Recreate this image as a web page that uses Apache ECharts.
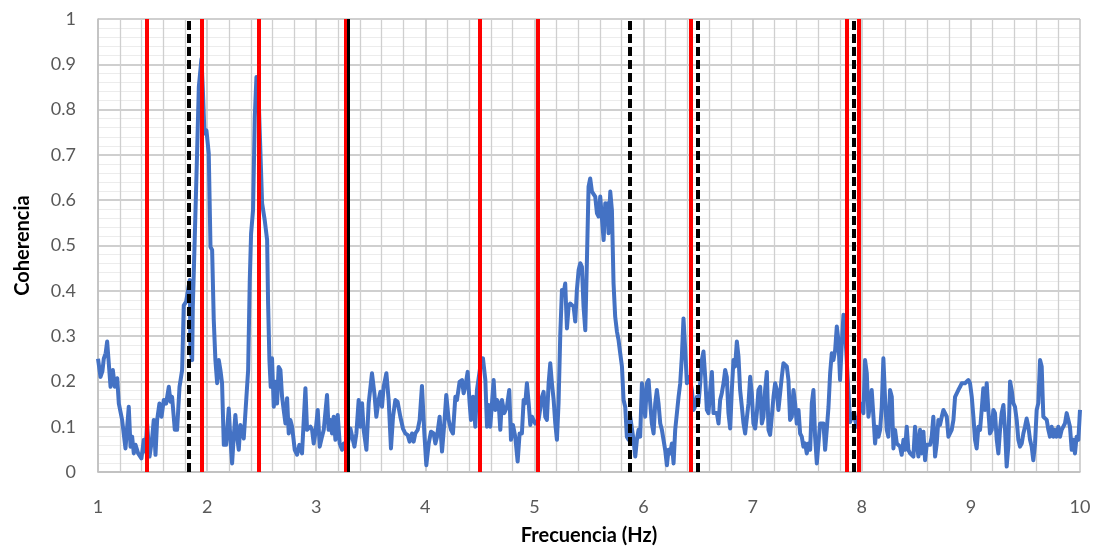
<!DOCTYPE html>
<html>
<head>
<meta charset="utf-8">
<script src="https://cdn.jsdelivr.net/npm/echarts@6/dist/echarts.min.js"></script>
<style>html,body{margin:0;padding:0;background:#fff;}#c{width:1099px;height:552px;}</style>
</head>
<body>
<div id="c"></div>
<script>
const freq = [1.000,1.023,1.040,1.053,1.070,1.084,1.115,1.136,1.154,1.176,1.191,1.221,1.252,1.282,1.298,1.313,1.328,1.344,1.368,1.398,1.420,1.435,1.450,1.472,1.496,1.511,1.527,1.542,1.563,1.582,1.603,1.624,1.649,1.664,1.679,1.704,1.725,1.747,1.771,1.786,1.808,1.826,1.841,1.847,1.863,1.869,1.887,1.908,1.924,1.948,1.960,1.976,1.994,2.015,2.031,2.046,2.061,2.076,2.092,2.107,2.122,2.137,2.153,2.174,2.198,2.214,2.229,2.244,2.259,2.275,2.290,2.305,2.321,2.336,2.351,2.376,2.391,2.403,2.421,2.437,2.452,2.467,2.482,2.504,2.528,2.550,2.559,2.571,2.583,2.595,2.611,2.626,2.641,2.656,2.672,2.687,2.702,2.718,2.733,2.748,2.763,2.779,2.803,2.824,2.846,
2.855,2.870,2.901,2.916,2.931,2.947,2.962,2.977,2.992,3.014,3.032,3.053,3.069,3.099,3.114,3.130,3.145,3.160,3.176,3.197,3.215,3.237,3.252,3.282,3.313,3.328,3.350,3.368,3.389,3.405,3.420,3.435,3.460,3.481,3.511,3.533,3.551,3.572,3.588,3.603,3.618,3.643,3.664,3.685,3.704,3.725,3.746,3.771,3.795,3.817,3.838,3.856,3.878,3.893,3.908,3.930,3.948,3.969,3.991,4.009,4.031,4.052,4.076,4.092,4.107,4.131,4.153,4.174,4.192,4.214,4.235,4.253,4.275,4.290,4.314,4.336,4.351,4.366,4.388,4.406,4.418,4.437,4.458,4.473,4.504,4.528,4.550,4.565,4.580,4.595,4.611,4.626,4.641,4.656,4.672,4.687,4.702,4.724,4.748,4.769,4.785,4.803,4.824,4.846,4.864,
4.885,4.901,4.916,4.931,4.947,4.962,4.977,4.992,5.008,5.038,5.053,5.069,5.084,5.099,5.114,5.130,5.145,5.160,5.176,5.191,5.206,5.221,5.237,5.252,5.267,5.282,5.298,5.313,5.328,5.344,5.359,5.374,5.389,5.405,5.420,5.435,5.450,5.466,5.481,5.496,5.511,5.527,5.542,5.557,5.573,5.588,5.603,5.618,5.634,5.649,5.658,5.670,5.679,5.695,5.710,5.725,5.740,5.756,5.771,5.786,5.802,5.817,5.832,5.847,5.863,5.878,5.893,5.908,5.924,5.939,5.954,5.969,5.985,6.000,6.015,6.031,6.046,6.061,6.076,6.092,6.107,6.122,6.137,6.153,6.168,6.183,6.198,6.214,6.229,6.244,6.260,6.275,6.290,6.305,6.321,6.336,6.351,6.366,6.382,6.397,6.412,6.427,6.443,6.458,6.473,6.489,6.504,6.519,6.534,
6.549,6.565,6.580,6.595,6.611,6.626,6.641,6.656,6.672,6.687,6.702,6.717,6.733,6.748,6.763,6.778,6.794,6.809,6.824,6.839,6.855,6.870,6.885,6.901,6.916,6.931,6.946,6.962,6.977,6.992,7.007,7.023,7.038,7.053,7.069,7.084,7.099,7.114,7.130,7.145,7.160,7.175,7.191,7.206,7.221,7.236,7.252,7.267,7.282,7.297,7.313,7.328,7.343,7.359,7.374,7.389,7.404,7.420,7.435,7.450,7.465,7.481,7.496,7.511,7.527,7.542,7.557,7.572,7.588,7.603,7.618,7.633,7.649,7.664,7.679,7.695,7.710,7.725,7.740,7.756,7.771,7.786,7.801,7.817,7.832,7.847,7.893,7.923,7.954,7.985,8.015,8.030,8.046,8.061,8.076,8.091,8.107,8.122,8.137,8.153,8.168,8.183,8.198,8.214,8.229,8.244,
8.259,8.275,8.290,8.305,8.321,8.336,8.351,8.366,8.382,8.397,8.412,8.427,8.443,8.458,8.473,8.488,8.504,8.519,8.534,8.549,8.565,8.580,8.595,8.611,8.626,8.641,8.656,8.672,8.687,8.702,8.717,8.733,8.748,8.763,8.779,8.794,8.809,8.824,8.840,8.855,8.870,8.885,8.901,8.916,8.931,8.946,8.962,8.977,8.992,9.008,9.023,9.038,9.053,9.069,9.084,9.099,9.114,9.130,9.145,9.160,9.175,9.191,9.206,9.221,9.237,9.252,9.267,9.282,9.298,9.313,9.328,9.343,9.359,9.374,9.389,9.404,9.420,9.435,9.450,9.466,9.481,9.496,9.511,9.527,9.542,9.557,9.572,9.588,9.603,9.618,9.634,9.649,9.664,9.679,9.695,9.710,9.725,9.740,9.756,9.771,9.786,9.801,9.817,9.832,9.847,9.862,9.878,9.893,9.908,9.924,9.939,9.954,9.969,9.985,10.000];

const coh = [0.250,0.210,0.222,0.250,0.262,0.288,0.188,0.225,0.188,0.207,0.151,0.115,0.052,0.144,0.056,0.078,0.041,0.060,0.041,0.030,0.071,0.045,0.107,0.034,0.074,0.115,0.038,0.115,0.151,0.122,0.159,0.151,0.188,0.155,0.166,0.093,0.093,0.188,0.225,0.368,0.376,0.379,0.424,0.269,0.247,0.365,0.519,0.703,0.850,0.912,0.850,0.747,0.754,0.703,0.497,0.490,0.335,0.247,0.196,0.247,0.225,0.196,0.060,0.060,0.140,0.071,0.019,0.078,0.126,0.078,0.049,0.104,0.100,0.074,0.078,0.225,0.424,0.526,0.578,0.784,0.872,0.865,0.754,0.593,0.556,0.512,0.372,0.247,0.188,0.251,0.144,0.199,0.151,0.232,0.225,0.166,0.137,0.107,0.163,0.085,0.115,0.100,0.049,0.038,0.060,
0.063,0.041,0.185,0.093,0.089,0.100,0.093,0.063,0.085,0.137,0.056,0.078,0.093,0.170,0.093,0.115,0.085,0.122,0.071,0.126,0.063,0.049,0.063,0.049,0.096,0.100,0.056,0.085,0.159,0.100,0.152,0.093,0.049,0.152,0.218,0.174,0.122,0.159,0.177,0.144,0.188,0.218,0.159,0.052,0.122,0.159,0.155,0.122,0.096,0.085,0.082,0.067,0.085,0.067,0.085,0.093,0.115,0.190,0.085,0.015,0.063,0.089,0.085,0.063,0.078,0.122,0.045,0.107,0.170,0.115,0.093,0.085,0.166,0.159,0.199,0.203,0.174,0.188,0.221,0.152,0.115,0.166,0.100,0.181,0.233,0.251,0.203,0.100,0.148,0.100,0.096,0.203,0.137,0.159,0.152,0.093,0.159,0.130,0.144,0.181,0.071,0.104,0.078,0.023,0.085,
0.085,0.159,0.152,0.196,0.152,0.104,0.122,0.126,0.107,0.115,0.111,0.166,0.177,0.122,0.115,0.196,0.240,0.196,0.159,0.107,0.071,0.152,0.306,0.402,0.394,0.416,0.317,0.365,0.372,0.369,0.365,0.332,0.402,0.446,0.461,0.453,0.365,0.313,0.468,0.630,0.648,0.619,0.619,0.608,0.571,0.564,0.608,0.608,0.512,0.593,0.564,0.593,0.527,0.619,0.578,0.416,0.343,0.310,0.291,0.262,0.233,0.159,0.144,0.078,0.071,0.122,0.122,0.071,0.034,0.071,0.093,0.078,0.196,0.166,0.122,0.196,0.203,0.152,0.107,0.085,0.152,0.181,0.152,0.107,0.093,0.071,0.049,0.015,0.049,0.041,0.063,0.019,0.093,0.096,0.166,0.196,0.255,0.339,0.269,0.196,0.210,0.203,0.181,0.137,0.144,0.166,0.152,0.196,0.247,
0.266,0.210,0.137,0.130,0.181,0.221,0.130,0.133,0.130,0.107,0.159,0.174,0.196,0.225,0.210,0.130,0.096,0.181,0.247,0.233,0.288,0.255,0.181,0.144,0.107,0.085,0.085,0.152,0.210,0.174,0.107,0.096,0.130,0.181,0.188,0.107,0.122,0.181,0.221,0.093,0.082,0.122,0.166,0.196,0.181,0.137,0.137,0.210,0.240,0.244,0.233,0.203,0.115,0.122,0.181,0.152,0.107,0.137,0.085,0.078,0.056,0.063,0.041,0.063,0.049,0.152,0.181,0.078,0.019,0.063,0.107,0.107,0.107,0.049,0.093,0.144,0.218,0.262,0.247,0.269,0.321,0.291,0.203,0.284,0.347,0.313,0.110,0.130,0.100,0.152,0.130,0.247,0.218,0.122,0.122,0.181,0.122,0.063,0.100,0.078,0.093,0.144,0.251,0.159,0.093,0.078,
0.181,0.166,0.052,0.093,0.063,0.063,0.056,0.038,0.071,0.049,0.100,0.049,0.041,0.038,0.034,0.100,0.063,0.034,0.093,0.041,0.089,0.026,0.060,0.056,0.060,0.078,0.122,0.034,0.063,0.115,0.104,0.122,0.137,0.137,0.122,0.078,0.078,0.093,0.115,0.166,0.170,0.181,0.188,0.196,0.197,0.196,0.200,0.203,0.196,0.166,0.122,0.071,0.052,0.100,0.093,0.137,0.185,0.137,0.196,0.137,0.085,0.093,0.137,0.130,0.071,0.041,0.093,0.130,0.148,0.093,0.012,0.056,0.200,0.181,0.152,0.144,0.115,0.071,0.056,0.063,0.085,0.100,0.118,0.100,0.071,0.056,0.026,0.063,0.137,0.152,0.247,0.233,0.122,0.118,0.115,0.093,0.078,0.100,0.078,0.093,0.078,0.100,0.078,0.093,0.100,0.107,0.130,0.130,0.100,0.049,0.071,0.041,0.078,0.071,0.137];

const redLines = [1.45, 1.95, 2.47, 3.27, 4.50, 5.03, 6.43, 7.86, 7.97];
const dashedLines = [1.83, 5.87, 6.50, 7.93];
const blackLines = [3.29];

const xMin = 1, xMax = 10, yMin = 0, yMax = 1;
const xTitle = 'Frecuencia (Hz)';
const yTitle = 'Coherencia';

const FONT = 'Lato';
const chart = echarts.init(document.getElementById('c'), null, {renderer: 'canvas'});
const pairs = freq.map((f, i) => [f, coh[i]]);

function vlines(vals, color, width, type, z) {
  return {
    type: 'line', data: [], z: z, silent: true,
    markLine: {
      symbol: ['none', 'none'], silent: true, animation: false,
      label: {show: false},
      lineStyle: {color: color, width: width, type: type},
      emphasis: {disabled: true},
      data: vals.map(v => ({xAxis: v}))
    }
  };
}

chart.setOption({
  animation: false,
  backgroundColor: '#ffffff',
  grid: {left: 98, right: 19, top: 19, bottom: 80, containLabel: false, outerBoundsMode: 'none'},
  xAxis: {
    type: 'value', min: xMin, max: xMax, interval: 1,
    name: xTitle, nameLocation: 'middle', nameGap: 54,
    nameTextStyle: {fontFamily: FONT, fontSize: 20, fontWeight: 'bold', color: '#000'},
    axisLine: {show: true, lineStyle: {color: '#bfbfbf', width: 1.5}},
    axisTick: {show: false},
    axisLabel: {fontFamily: FONT, fontSize: 18, color: '#595959', margin: 26},
    splitLine: {show: true, lineStyle: {color: '#c4c4c4', width: 1.5}},
    minorTick: {show: false, splitNumber: 5},
    minorSplitLine: {show: true, lineStyle: {color: '#cfcfcf', width: 1.3}}
  },
  yAxis: {
    type: 'value', min: yMin, max: yMax, interval: 0.1,
    name: yTitle, nameLocation: 'middle', nameGap: 65,
    nameTextStyle: {fontFamily: FONT, fontSize: 20, fontWeight: 'bold', color: '#000'},
    axisLine: {show: true, lineStyle: {color: '#bfbfbf', width: 1.5}},
    axisTick: {show: false},
    axisLabel: {fontFamily: FONT, fontSize: 18, color: '#595959', margin: 22,
      formatter: v => String(Math.round(v * 10) / 10)},
    splitLine: {show: true, lineStyle: {color: '#bfbfbf', width: 1.5}},
    minorTick: {show: false, splitNumber: 5},
    minorSplitLine: {show: true, lineStyle: {color: '#ececec', width: 1}}
  },
  series: [
    {
      type: 'line', data: pairs, showSymbol: false, symbol: 'none', z: 2,
      lineStyle: {color: '#4472C4', width: 4, join: 'round'},
      itemStyle: {color: '#4472C4'}
    },
    vlines(redLines, '#ff0000', 4, 'solid', 5),
    vlines(blackLines, '#000000', 3, 'solid', 4),
    vlines(dashedLines, '#000000', 4, [9, 4], 6)
  ]
});
</script>
</body>
</html>
